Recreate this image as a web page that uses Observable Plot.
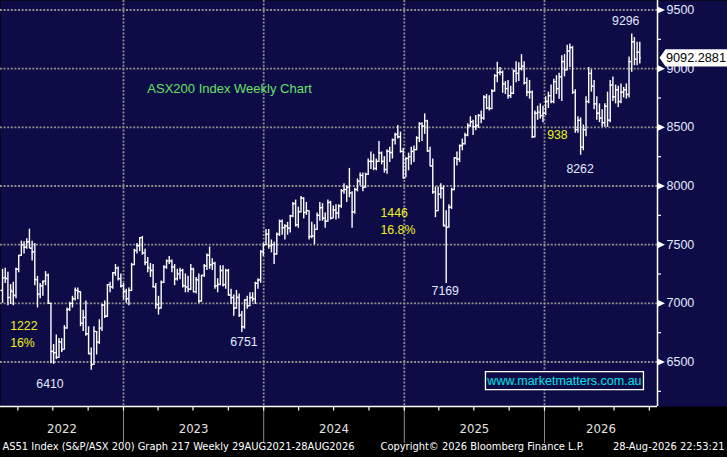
<!DOCTYPE html>
<html><head><meta charset="utf-8">
<script src="https://cdn.jsdelivr.net/npm/d3@7"></script>
<script src="https://cdn.jsdelivr.net/npm/@observablehq/plot@0.6"></script>
<style>html,body{margin:0;padding:0;background:#000;overflow:hidden;}</style>
</head><body><div id="chart"></div>
<script>
// Weekly OHLC bars [open, high, low, close], week ending Friday
const bars2022 = [
[7110,7290,7000,7217],[7217,7300,7170,7221],[7210,7265,6980,7049],[7050,7160,6990,7111],[7100,7180,6980,7064],
[7070,7300,7040,7296],[7290,7410,7260,7406],[7410,7530,7400,7499],[7500,7525,7420,7478],[7480,7550,7460,7523],
[7525,7632,7470,7473],[7470,7530,7360,7435],[7440,7510,7150,7205],[7200,7230,6960,7075],[7080,7170,7040,7146],
[7150,7190,7060,7182],[7190,7270,7150,7238],[7240,7250,6990,7021],[7000,7000,6485,6591],[6590,6650,6480,6578],
[6580,6730,6520,6539],[6540,6700,6530,6674],[6670,6700,6580,6605],[6610,6810,6600,6791],[6790,6960,6780,6945],
[6950,7010,6930,6996],[7000,7060,6960,7033],[7040,7130,7020,7114],[7110,7130,7030,7104],[7100,7100,6800,6829],
[6830,6940,6760,6879],[6880,7020,6720,6739],[6740,6800,6560,6574],[6570,6620,6430,6474],[6480,6800,6470,6762],
[6760,6760,6560,6667],[6670,6860,6650,6784],[6790,6990,6760,6985],[6985,7020,6870,6892],[6890,7160,6880,7158],
[7160,7180,7090,7142],[7140,7260,7120,7259],[7260,7330,7230,7301],[7300,7310,7190,7213],[7210,7250,7130,7147],
[7150,7170,7030,7105],[7100,7120,7000,7039]
];
const bars2023 = [
[7040,7130,6980,7110],[7110,7340,7100,7332],[7330,7460,7320,7452],[7450,7510,7420,7493],[7490,7560,7440,7559],
[7560,7570,7410,7433],[7430,7460,7320,7346],[7350,7390,7260,7307],[7300,7340,7220,7284],[7280,7330,7130,7144],
[7140,7170,6950,6995],[6990,7060,6900,6955],[6960,7190,6950,7178],[7180,7320,7170,7310],[7310,7370,7290,7362],
[7360,7400,7330,7366],[7360,7370,7260,7309],[7310,7330,7150,7207],[7210,7290,7190,7256],[7250,7300,7200,7279],
[7280,7290,7130,7154],[7150,7250,7090,7142],[7140,7230,7090,7124],[7120,7330,7110,7295],[7290,7300,7090,7099],
[7100,7220,7080,7203],[7200,7250,7000,7019],[7020,7240,7010,7236],[7240,7330,7220,7317],[7320,7420,7280,7410],
[7410,7480,7290,7326],[7330,7380,7280,7340],[7340,7350,7120,7148],[7150,7210,7090,7164],[7160,7320,7150,7279],
[7280,7320,7140,7157],[7160,7290,7120,7279],[7280,7290,7060,7076],[7070,7120,6990,7049],[7050,7070,6890,6958],
[6960,7110,6950,7051],[7050,7080,6880,6898],[6900,6930,6751,6801],[6800,7030,6780,7026],[7030,7060,6950,6977],
[6980,7090,6970,7049],[7050,7090,7010,7036],[7040,7180,6990,7174],[7170,7210,7120,7195],[7200,7450,7170,7442],
[7440,7510,7400,7500],[7500,7630,7490,7590]
];
const bars2024 = [
[7590,7630,7460,7490],[7490,7540,7430,7499],[7500,7520,7330,7421],[7420,7600,7410,7588],[7590,7710,7570,7699],
[7700,7710,7580,7645],[7645,7670,7540,7658],[7660,7690,7580,7643],[7640,7750,7600,7745],[7745,7860,7730,7848],
[7850,7880,7650,7670],[7670,7820,7640,7782],[7780,7910,7770,7897],[7895,7900,7720,7773],[7775,7860,7750,7789],
[7790,7790,7540,7567],[7570,7690,7550,7575],[7575,7670,7500,7629],[7630,7770,7620,7749],[7750,7860,7700,7814],
[7815,7850,7700,7727],[7725,7770,7640,7702],[7700,7880,7690,7860],[7860,7870,7710,7724],[7725,7830,7720,7796],
[7795,7840,7710,7768],[7770,7840,7720,7828],[7830,7970,7810,7959],[7960,8020,7930,7971],[7970,8000,7860,7989],
[7990,8150,7900,7943],[7940,7950,7640,7778],[7780,7980,7760,7971],[7970,8060,7950,8040],[8040,8110,8000,8092],
[8090,8110,7950,7986],[7990,8110,7980,8099],[8100,8230,8090,8209],[8210,8290,8140,8212],[8210,8270,8130,8150],
[8150,8230,8130,8209],[8210,8380,8200,8283],[8280,8290,8180,8211],[8210,8250,8110,8142],[8140,8310,8100,8295],
[8295,8330,8200,8285],[8285,8400,8230,8393],[8395,8450,8350,8436],[8440,8515,8400,8420],[8420,8460,8280,8296],
[8295,8320,8065,8067],[8070,8240,8070,8235]
];
const bars2025 = [
[8235,8280,8130,8250],[8250,8330,8180,8294],[8295,8340,8200,8310],[8310,8420,8300,8408],[8410,8540,8370,8532],
[8530,8540,8380,8511],[8510,8615,8440,8555],[8555,8560,8290,8296],[8300,8330,8170,8172],[8170,8230,7930,7948],
[7950,7990,7730,7789],[7790,7990,7780,7931],[7930,8020,7890,7982],[7980,8000,7650,7667],[7660,7790,7169,7646],
[7650,7840,7640,7819],[7820,7980,7800,7969],[7970,8240,7960,8238],[8240,8290,8170,8231],[8230,8350,8200,8343],
[8345,8400,8300,8361],[8360,8450,8350,8434],[8435,8530,8420,8515],[8515,8590,8500,8548],[8548,8560,8430,8505],
[8505,8600,8470,8514],[8515,8610,8490,8603],[8600,8640,8530,8580],[8580,8770,8560,8757],[8757,8780,8650,8666],
[8666,8770,8640,8662],[8660,8820,8650,8807],[8810,8950,8800,8939],[8940,9055,8880,8967],[8967,9010,8940,8973],
[8970,8980,8790,8871],[8870,8890,8780,8830],[8830,8900,8740,8770],[8770,8850,8745,8790],[8790,8990,8780,8980],
[8980,9060,8880,8960],[8960,9050,8890,9000],[9000,9120,8980,9020],[9020,9060,8860,8880],[8880,8920,8760,8800],
[8800,8900,8740,8800],[8800,8810,8405,8420],[8420,8640,8410,8620],[8620,8680,8560,8630],[8630,8700,8570,8600],
[8600,8680,8540,8620],[8620,8760,8600,8720]
];
const bars2026 = [
[8720,8800,8660,8770],[8770,8860,8700,8720],[8720,8910,8700,8890],[8890,8940,8780,8830],[8830,8960,8740,8930],
[8930,9110,8720,9060],[9060,9120,8930,8990],[8990,9200,8980,9150],[9150,9210,9010,9180],[9180,9190,8780,8800],
[8800,8820,8450,8480],[8480,8590,8450,8560],[8560,8580,8262,8330],[8330,8520,8300,8480],[8480,8760,8420,8720],
[8720,9010,8700,8960],[8960,8990,8800,8850],[8850,8900,8650,8700],[8700,8760,8560,8620],[8620,8700,8540,8580],
[8580,8650,8500,8540],[8540,8700,8500,8680],[8680,8800,8500,8560],[8560,8900,8540,8860],[8860,8930,8720,8760],
[8760,8860,8700,8820],[8820,8850,8670,8720],[8720,8870,8700,8800],[8800,8840,8750,8820],[8820,8870,8740,8780],
[8780,9100,8750,9060],[9060,9296,8970,9230],[9230,9265,9025,9080],[9080,9225,9025,9140],[9140,9225,9040,9092.2881]
];

const yTicks = [6500, 7000, 7500, 8000, 8500, 9000, 9500];
const yMinor = [6250, 6750, 7250, 7750, 8250, 8750, 9250];
const years = [2022, 2023, 2024, 2025, 2026];

const annLabels = ["ASX200 Index Weekly Chart", "1222", "16%", "6410", "6751", "1446", "16.8%", "7169", "938", "8262", "9296"];
const annDates  = ["2023-03-04", "2022-03-12", "2022-03-12", "2022-05-19", "2023-10-06", "2024-10-31", "2024-10-31", "2025-03-13", "2026-01-08", "2026-02-27", "2026-06-26"];
const annPrices = [8831, 6803, 6658, 6308, 6666, 7766, 7621, 7101, 8430, 8141, 9402];
const annKinds  = ["title", "move", "move", "level", "level", "move", "move", "level", "move", "level", "level"];

const watermark = {label: "www.marketmatters.com.au", date: "2026-02-22", price: 6342};
const footerTexts = ["AS51 Index (S&P/ASX 200) Graph 217 Weekly 29AUG2021-28AUG2026", "Copyright\u00A9 2026 Bloomberg Finance L.P.", "28-Aug-2026 22:53:21"];

// ---- build
const NAVY = "#0e0c46", GRID = "#8e8e8e", YELLOW = "#f2f21c", LABEL = "#e2eaff", GREEN = "#66e066", CYAN = "#00e3ea";
const FONT = "Liberation Sans, Arial, sans-serif";
const COND = "DejaVu Sans Condensed, DejaVu Sans, sans-serif";
const kindColor = {title: GREEN, move: YELLOW, level: LABEL};

const dates = d3.utcFriday.range(new Date(Date.UTC(2022, 1, 11)), new Date(Date.UTC(2026, 7, 29)));
const allBars = [...bars2022, ...bars2023, ...bars2024, ...bars2025, ...bars2026];
const ohlc = allBars.map(([o, h, l, c], i) => ({date: dates[i], open: o, high: h, low: l, close: c}));
const last = ohlc[ohlc.length - 1];

const DAY = 864e5, base = Date.UTC(2022, 0, 1);
const xStart = new Date(base + 44.8 * DAY), xEnd = new Date(base + 1755.2 * DAY);
const yDomain = [6120.7, 9581];

const yearStarts = years.map(y => new Date(Date.UTC(y, 0, 1))).filter(d => d > xStart);
const yearLabels = years.map(y => {
  const s = Math.max(Date.UTC(y, 0, 1), +xStart), e = Math.min(Date.UTC(y + 1, 0, 1), +xEnd);
  return {year: String(y), mid: new Date((s + e) / 2)};
});
const quarters = d3.utcMonth.every(3).range(xStart, xEnd);
const annotations = annLabels.map((t, i) => ({label: t, date: new Date(annDates[i]), price: annPrices[i], kind: annKinds[i]}));

const hTick = {draw(ctx) { ctx.moveTo(0, 0); ctx.lineTo(3.5, 0); }};
const vTick = {draw(ctx) { ctx.moveTo(0, 0); ctx.lineTo(0, 4); }};
const tri = {draw(ctx) { ctx.moveTo(0.5, -3.3); ctx.lineTo(7.5, 0); ctx.lineTo(0.5, 3.3); ctx.closePath(); }};
const tag = {draw(ctx) { ctx.moveTo(2, 0); ctx.lineTo(8, -8.7); ctx.lineTo(72, -8.7); ctx.lineTo(72, 8.7); ctx.lineTo(8, 8.7); ctx.closePath(); }};
const box = {draw(ctx) { ctx.rect(-79, -9, 158, 18); }};

const BAR = {stroke: "white", strokeWidth: 1.4, dx: 3.5};
const svg = Plot.plot({
  width: 727, height: 457,
  marginLeft: 0, marginRight: 70, marginTop: 0, marginBottom: 51,
  style: {background: "#000", fontFamily: FONT, overflow: "visible"},
  x: {type: "utc", domain: [xStart, xEnd], axis: null},
  y: {domain: yDomain, axis: null},
  marks: [
    Plot.frame({fill: NAVY, stroke: null, insetRight: -70}),
    Plot.ruleY(yTicks, {y: d => d, stroke: GRID, strokeWidth: 1.8, strokeDasharray: "2,1.6"}),
    Plot.ruleX(yearStarts, {x: d => d, stroke: GRID, strokeWidth: 1.8, strokeDasharray: "2,1.6"}),
    Plot.ruleX(yearStarts, {x: d => d, insetTop: 406, insetBottom: -37, stroke: "#8a8a8a", strokeWidth: 1}),
    // OHLC bars
    Plot.ruleX(ohlc, {x: "date", y1: "low", y2: "high", ...BAR}),
    Plot.ruleY(ohlc, {x1: d => d.date, x2: d => d.date, y: "open", insetLeft: -1.6, insetRight: 0, ...BAR}),
    Plot.ruleY(ohlc, {x1: d => d.date, x2: d => d.date, y: "close", insetLeft: 0, insetRight: -1.6, ...BAR}),
    // axes
    Plot.ruleY([yDomain[0]], {y: d => d, stroke: "white", strokeWidth: 1.5}),
    Plot.ruleX([xEnd], {x: d => d, stroke: "white", strokeWidth: 1.5}),
    Plot.dot(quarters, {x: d => d, frameAnchor: "bottom", symbol: vTick, stroke: "white", fill: "none", strokeWidth: 1.2}),
    Plot.dot(yMinor, {y: d => d, frameAnchor: "right", symbol: hTick, stroke: "white", fill: "none", strokeWidth: 1.2}),
    Plot.dot(yTicks, {y: d => d, frameAnchor: "right", symbol: tri, fill: "white", stroke: null}),
    Plot.text(yTicks, {y: d => d, text: d => String(d), frameAnchor: "right", dx: 9, textAnchor: "start", fill: LABEL, fontSize: 12.5, fontFamily: FONT}),
    // last price tag
    Plot.dot([last], {y: "close", frameAnchor: "right", symbol: tag, fill: "white", stroke: null}),
    Plot.text([last], {y: "close", text: d => d.close.toFixed(4), frameAnchor: "right", dx: 8.5, textAnchor: "start", fill: "black", fontSize: 12.7, fontFamily: FONT}),
    // annotations
    Plot.text(annotations, {x: "date", y: "price", text: "label", fill: d => kindColor[d.kind], textAnchor: "start", fontSize: d => d.kind === "title" ? 13 : 12.3, fontFamily: FONT}),
    Plot.dot([watermark], {x: d => new Date(d.date), y: "price", symbol: box, fill: NAVY, stroke: "white", strokeWidth: 1.3}),
    Plot.text([watermark], {x: d => new Date(d.date), y: "price", text: "label", fill: CYAN, fontSize: 12.5, fontFamily: FONT}),
    // year labels
    Plot.text(yearLabels, {x: "mid", text: "year", frameAnchor: "bottom", dy: 26, fill: "#e4e4e4", fontSize: 13, fontFamily: COND}),
    // footer
    Plot.text([footerTexts[0]], {text: d => d, frameAnchor: "bottom-left", dx: 2, dy: 43, textAnchor: "start", fill: "white", fontSize: 11, fontFamily: COND, ariaLabel: "footer-0"}),
    Plot.text([footerTexts[1]], {text: d => d, frameAnchor: "bottom-left", dx: 380, dy: 43, textAnchor: "start", fill: "white", fontSize: 11, fontFamily: COND, ariaLabel: "footer-1"}),
    Plot.text([footerTexts[2]], {text: d => d, frameAnchor: "bottom-right", dx: 67, dy: 43, textAnchor: "end", fill: "white", fontSize: 11, fontFamily: COND, ariaLabel: "footer-2"})
  ]
});
document.getElementById("chart").append(svg);
[356, 208, 117].forEach((L, i) => {
  const t = svg.querySelector(`g[aria-label="footer-${i}"] text`);
  if (t) { t.setAttribute("textLength", L); t.setAttribute("lengthAdjust", "spacingAndGlyphs"); }
});
</script></body></html>
